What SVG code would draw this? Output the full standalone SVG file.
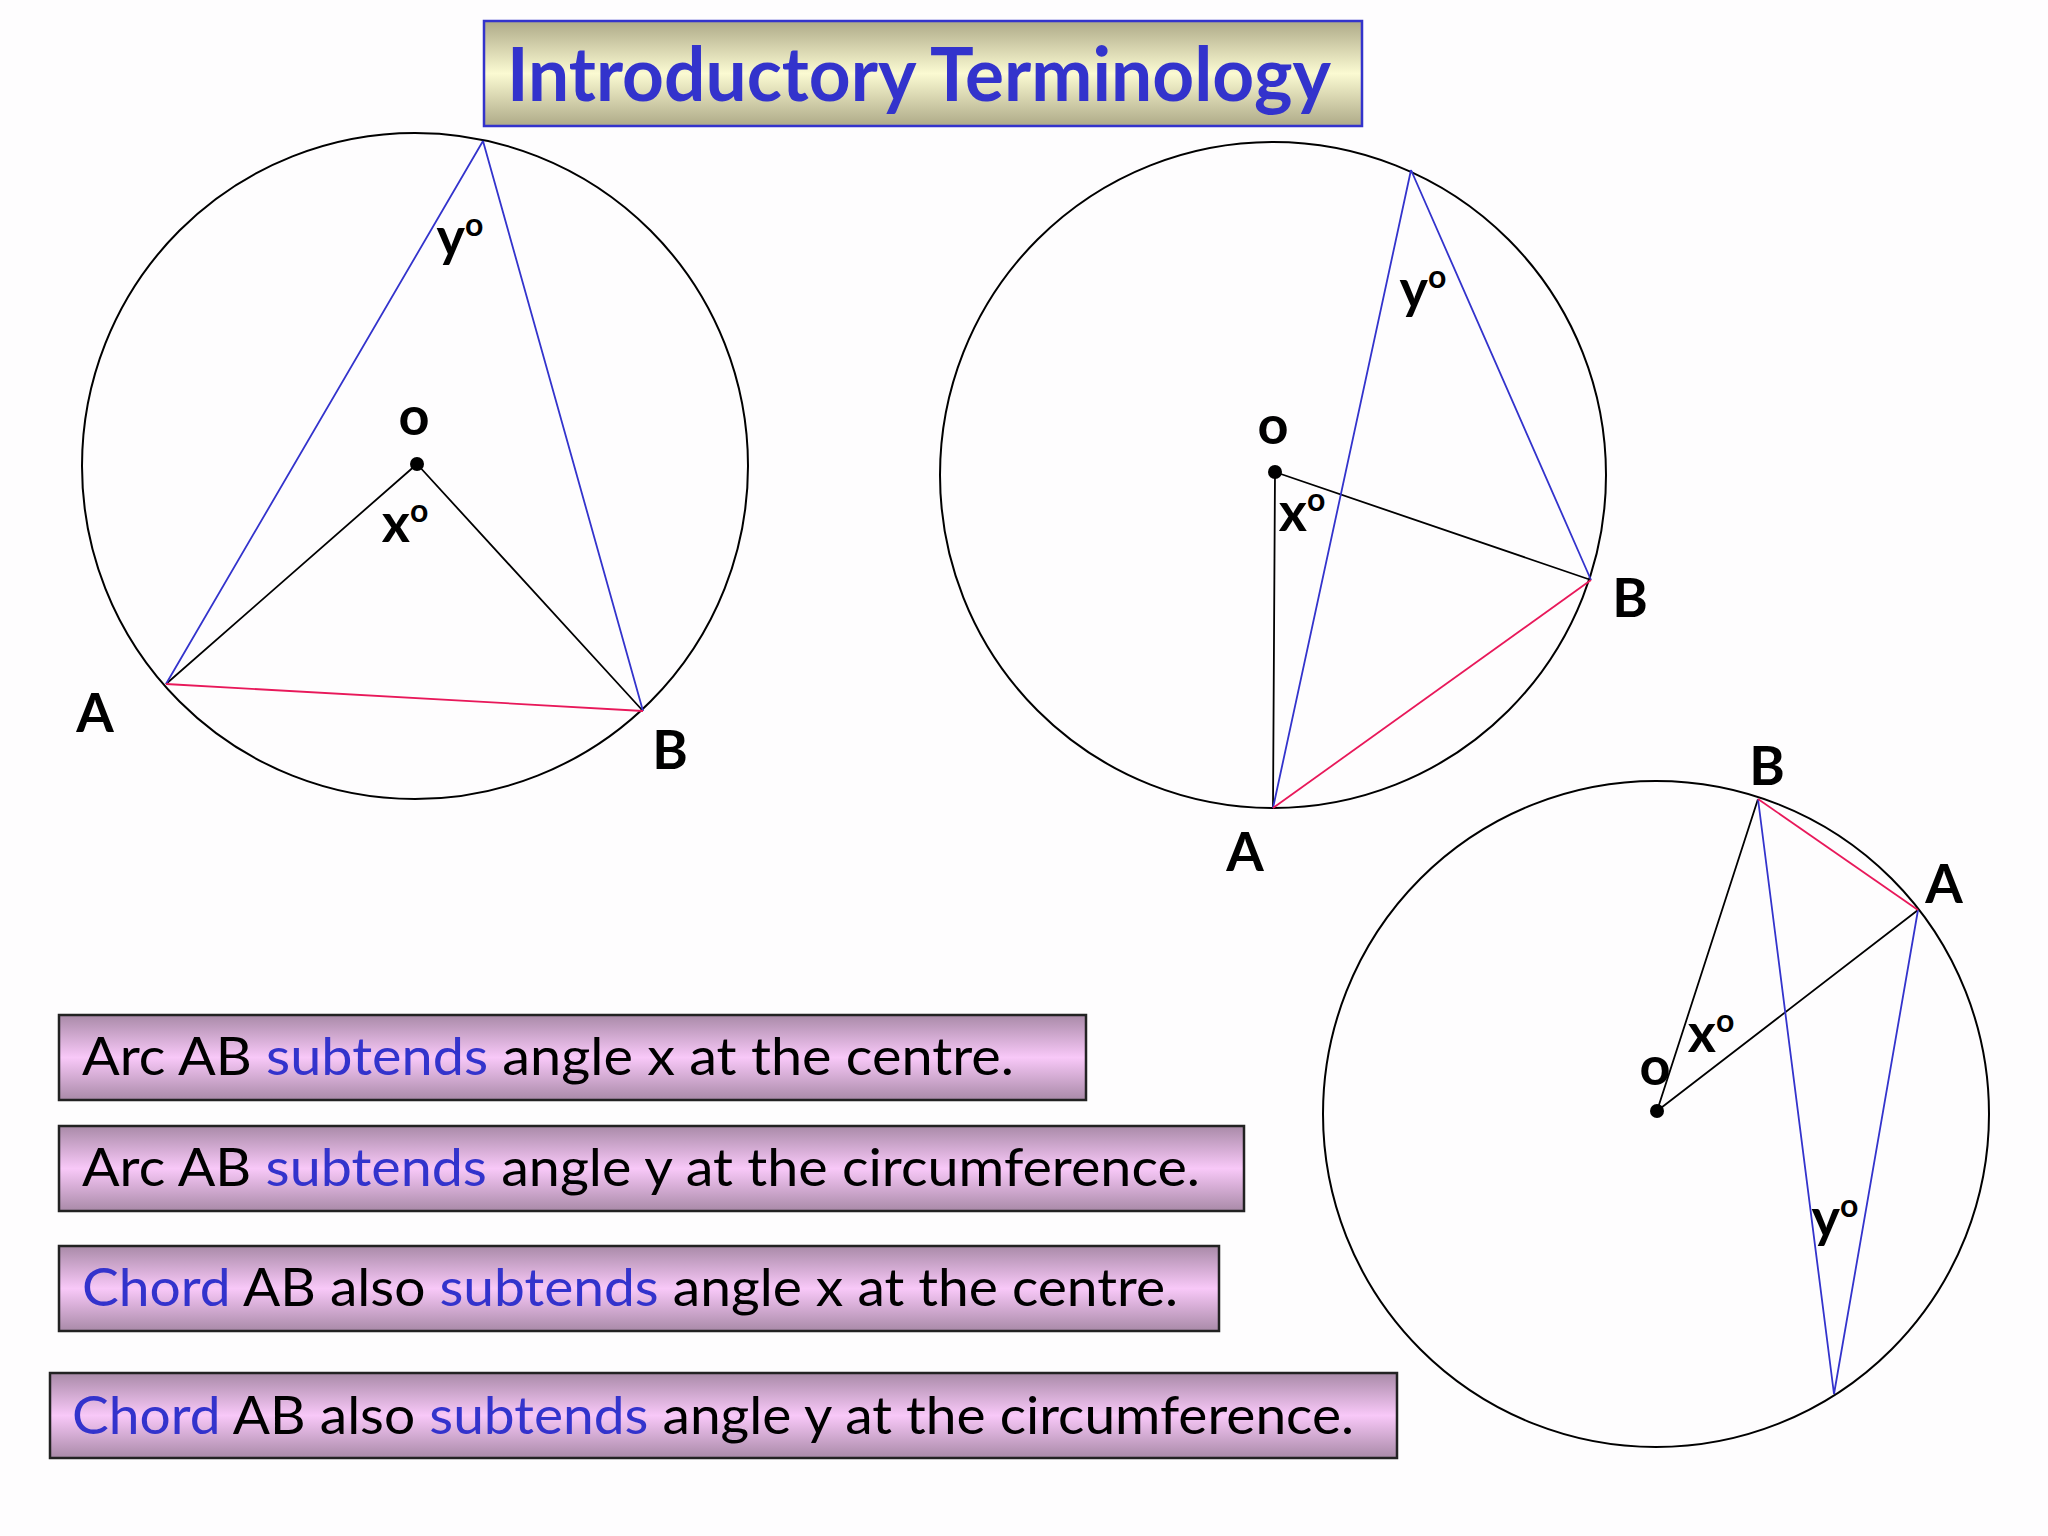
<svg xmlns="http://www.w3.org/2000/svg" width="2048" height="1536" viewBox="0 0 2048 1536">
<defs>
<linearGradient id="gTitle" x1="0" y1="0" x2="0" y2="1">
<stop offset="0" stop-color="#aeaa88"/>
<stop offset="0.5" stop-color="#fbfad2"/>
<stop offset="1" stop-color="#aeaa88"/>
</linearGradient>
<linearGradient id="gBox" x1="0" y1="0" x2="0" y2="1">
<stop offset="0" stop-color="#a98aa8"/>
<stop offset="0.5" stop-color="#f8c8f8"/>
<stop offset="1" stop-color="#a98aa8"/>
</linearGradient>
<style>
.circ{fill:none;stroke:#000;stroke-width:2}
.blk{stroke:#000;stroke-width:1.8;fill:none}
.blu{stroke:#3333cc;stroke-width:1.8;fill:none}
.red{stroke:#e8185a;stroke-width:1.8;fill:none}
.lbl{font-family:Lato,"Open Sans",sans-serif;font-size:54px;font-weight:bold;fill:#000;text-anchor:middle}
.sup{font-size:32px}
.box{fill:url(#gBox);stroke:#222;stroke-width:2.5}
.bt{font-family:Lato,"Open Sans",sans-serif;font-size:53px;fill:#000}
.bl{fill:#3333cc}
</style>
</defs>
<rect width="2048" height="1536" fill="#fefdfe"/>
<g id="title">
<rect x="484" y="21" width="878" height="105" fill="url(#gTitle)" stroke="#3333cc" stroke-width="2.5"/>
<text x="507" y="101" font-family="Lato,'Open Sans',sans-serif" font-size="74" font-weight="bold" fill="#3333cc" textLength="824" lengthAdjust="spacingAndGlyphs">Introductory Terminology</text>
</g>
<g id="circle1">
<circle class="circ" cx="415" cy="466" r="333"/>
</g>
<g id="circle2">
<circle class="circ" cx="1273" cy="475" r="333"/>
</g>
<g id="circle3">
<circle class="circ" cx="1656" cy="1114" r="333"/>
</g>
<g id="connectors">
<path class="blk" d="M417 464 L166 684 M417 464 L643 711"/>
<path class="blu" d="M483 141 L166 684 M483 141 L643 711"/>
<path class="red" d="M166 684 L643 711"/>
<path class="blk" d="M1275 472 L1273 808 M1275 472 L1591 580"/>
<path class="blu" d="M1411 170 L1273 808 M1411 170 L1591 580"/>
<path class="red" d="M1273 808 L1591 580"/>
<path class="blk" d="M1657 1111 L1758 799 M1657 1111 L1918 910"/>
<path class="blu" d="M1834 1394 L1758 799 M1834 1394 L1918 910"/>
<path class="red" d="M1758 799 L1918 910"/>
</g>
<g id="points">
<circle cx="417" cy="464" r="7"/>
<circle cx="1275" cy="472" r="7"/>
<circle cx="1657" cy="1111" r="7"/>
</g>
<g id="labels1">
<text class="lbl" x="460" y="256">y<tspan class="sup" dy="-20">o</tspan></text>
<text class="lbl" x="414" y="435">o</text>
<text class="lbl" x="405" y="542">x<tspan class="sup" dy="-20">o</tspan></text>
<text class="lbl" x="95" y="732">A</text>
<text class="lbl" x="670" y="769">B</text>
</g>
<g id="labels2">
<text class="lbl" x="1423" y="308">y<tspan class="sup" dy="-20">o</tspan></text>
<text class="lbl" x="1273" y="444">o</text>
<text class="lbl" x="1302" y="531">x<tspan class="sup" dy="-20">o</tspan></text>
<text class="lbl" x="1630" y="617">B</text>
<text class="lbl" x="1245" y="871">A</text>
</g>
<g id="labels3">
<text class="lbl" x="1767" y="785">B</text>
<text class="lbl" x="1944" y="903">A</text>
<text class="lbl" x="1655" y="1085">o</text>
<text class="lbl" x="1711" y="1052">x<tspan class="sup" dy="-20">o</tspan></text>
<text class="lbl" x="1835" y="1237">y<tspan class="sup" dy="-20">o</tspan></text>
</g>
<g id="box1">
<rect class="box" x="59" y="1015" width="1027" height="85"/>
<text class="bt" x="82" y="1075" textLength="932" lengthAdjust="spacingAndGlyphs">Arc AB <tspan class="bl">subtends</tspan> angle x at the centre.</text>
</g>
<g id="box2">
<rect class="box" x="59" y="1126" width="1185" height="85"/>
<text class="bt" x="82" y="1186" textLength="1118" lengthAdjust="spacingAndGlyphs">Arc AB <tspan class="bl">subtends</tspan> angle y at the circumference.</text>
</g>
<g id="box3">
<rect class="box" x="59" y="1246" width="1160" height="85"/>
<text class="bt" x="82" y="1306" textLength="1096" lengthAdjust="spacingAndGlyphs"><tspan class="bl">Chord</tspan> AB also <tspan class="bl">subtends</tspan> angle x at the centre.</text>
</g>
<g id="box4">
<rect class="box" x="50" y="1373" width="1347" height="85"/>
<text class="bt" x="72" y="1434" textLength="1282" lengthAdjust="spacingAndGlyphs"><tspan class="bl">Chord</tspan> AB also <tspan class="bl">subtends</tspan> angle y at the circumference.</text>
</g>
</svg>
